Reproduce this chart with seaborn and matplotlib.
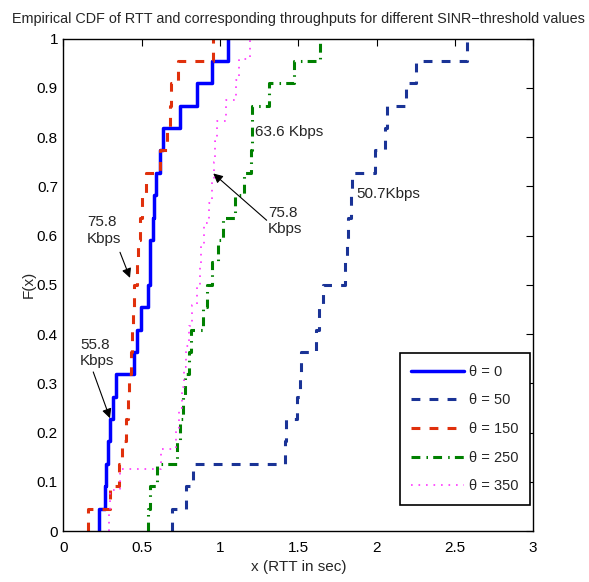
import matplotlib
matplotlib.use("Agg")
import numpy as np
import pandas as pd
import seaborn as sns
import matplotlib.pyplot as plt

# RTT samples (seconds) for each SINR threshold
rtt_theta0 = [0.227, 0.265, 0.272, 0.284, 0.297, 0.319, 0.336, 0.453, 0.468, 0.496, 0.542,
              0.550, 0.555, 0.570, 0.581, 0.591, 0.617, 0.635, 0.745, 0.856, 0.947, 1.054]
rtt_theta50 = [0.692, 0.780, 0.826, 1.416, 1.423, 1.490, 1.508, 1.520, 1.614, 1.630, 1.660,
               1.800, 1.810, 1.820, 1.836, 1.845, 1.990, 2.055, 2.065, 2.190, 2.250, 2.580]
rtt_theta150 = [0.159, 0.300, 0.355, 0.375, 0.400, 0.410, 0.420, 0.432, 0.440, 0.447, 0.452,
                0.468, 0.478, 0.489, 0.500, 0.530, 0.617, 0.660, 0.680, 0.690, 0.730, 0.954]
rtt_theta250 = [0.542, 0.550, 0.596, 0.725, 0.745, 0.766, 0.777, 0.805, 0.815, 0.894, 0.915,
                0.947, 0.990, 1.020, 1.097, 1.156, 1.198, 1.202, 1.206, 1.310, 1.470, 1.640]
rtt_theta350 = [0.293, 0.300, 0.360, 0.625, 0.720, 0.740, 0.755, 0.770, 0.780, 0.800, 0.820,
                0.850, 0.870, 0.880, 0.900, 0.930, 0.950, 0.960, 0.970, 0.980, 1.040, 1.100,
                1.120, 1.190]

series_labels = ["θ = 0", "θ = 50", "θ = 150", "θ = 250", "θ = 350"]
series_values = [rtt_theta0, rtt_theta50, rtt_theta150, rtt_theta250, rtt_theta350]

x_ticks = [0, 0.5, 1, 1.5, 2, 2.5, 3]
x_tick_labels = ["0", "0.5", "1", "1.5", "2", "2.5", "3"]
y_ticks = [0, 0.1, 0.2, 0.3, 0.4, 0.5, 0.6, 0.7, 0.8, 0.9, 1]
y_tick_labels = ["0", "0.1", "0.2", "0.3", "0.4", "0.5", "0.6", "0.7", "0.8", "0.9", "1"]

sns.set_theme(style="white")
plt.rcParams["font.family"] = ["Liberation Sans", "DejaVu Sans"]
plt.rcParams["axes.unicode_minus"] = True

styles = [
    dict(color="#0000ff", linewidth=2.5, linestyle="-"),
    dict(color="#1a3396", linewidth=2.2, dashes=(2.9, 3.0)),
    dict(color="#e0300c", linewidth=2.2, dashes=(2.9, 3.0)),
    dict(color="#008000", linewidth=2.2, dashes=(2.9, 2.0, 0.5, 1.7)),
    dict(color="#ff33ff", linewidth=1.2, dashes=(1.0, 3.5)),
]

fig = plt.figure(figsize=(5.89, 5.82), dpi=100)
ax = fig.add_axes([0.1078, 0.0876, 0.7972, 0.8462])

for label, vals, st in zip(series_labels, series_values, styles):
    df = pd.DataFrame({"rtt": vals})
    sns.ecdfplot(data=df, x="rtt", ax=ax, label=label, **st)
    line = ax.lines[-1]
    xd, yd = line.get_data()
    xd = np.asarray(xd, dtype=float).copy()
    xd[0] = xd[1]  # start the first step at the smallest sample instead of -inf
    line.set_data(xd, yd)

ax.set_xlim(0, 3)
ax.set_ylim(0, 1)
ax.set_xticks(x_ticks)
ax.set_xticklabels(x_tick_labels)
ax.set_yticks(y_ticks)
ax.set_yticklabels(y_tick_labels)
ax.tick_params(direction="in", top=True, right=True, length=5, width=0.8,
               labelsize=11, colors="black")
ax.tick_params(axis="x", pad=7)
ax.tick_params(axis="y", pad=4)
for sp in ax.spines.values():
    sp.set_color("black")
    sp.set_linewidth(1.0)

ax.set_xlabel("x (RTT in sec)", fontsize=11, labelpad=4)
ax.set_ylabel("F(x)", fontsize=11, labelpad=1)
ax.set_title("Empirical CDF of RTT and corresponding throughputs for different SINR\u2212threshold values",
             fontsize=10.4, pad=11)

arrow = dict(arrowstyle="-|>", color="black", lw=0.8, mutation_scale=14, shrinkA=0, shrinkB=0)
ax.annotate("75.8\nKbps", xy=(0.425, 0.514), xytext=(0.15, 0.61), fontsize=11,
            ha="left", va="center", linespacing=1.2)
ax.annotate("", xy=(0.425, 0.514), xytext=(0.361, 0.566), arrowprops=arrow)
ax.annotate("55.8\nKbps", xy=(0.297, 0.229), xytext=(0.105, 0.361), fontsize=11,
            ha="left", va="center", linespacing=1.2)
ax.annotate("", xy=(0.297, 0.229), xytext=(0.19, 0.323), arrowprops=arrow)
ax.annotate("75.8\nKbps", xy=(0.957, 0.726), xytext=(1.307, 0.63), fontsize=11,
            ha="left", va="center", linespacing=1.2)
ax.annotate("", xy=(0.957, 0.726), xytext=(1.298, 0.631), arrowprops=arrow)
ax.text(1.224, 0.811, "63.6 Kbps", fontsize=11, ha="left", va="center")
ax.text(1.869, 0.685, "50.7Kbps", fontsize=11, ha="left", va="center")

leg = ax.legend(loc="lower right", bbox_to_anchor=(0.9936, 0.053), fontsize=10.5,
                frameon=True, fancybox=False, framealpha=1, edgecolor="black",
                handlelength=3.6, labelspacing=1.0, borderpad=0.8, handletextpad=0.35,
                borderaxespad=0)
leg.get_frame().set_linewidth(1.2)

fig.savefig("out.png", dpi=100)
